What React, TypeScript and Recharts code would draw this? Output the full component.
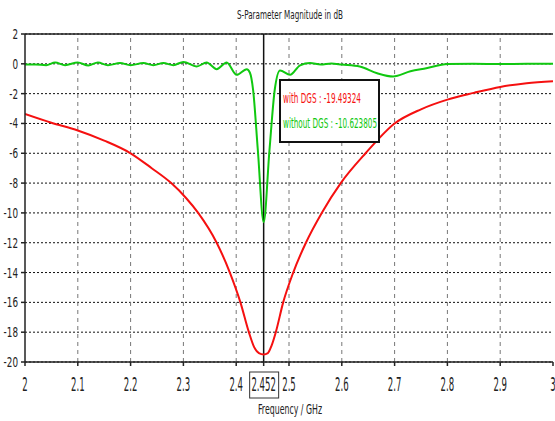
import { LineChart, Line, XAxis, YAxis, CartesianGrid, ReferenceLine } from 'recharts';

// ── Data ─────────────────────────────────────────────────────────────────────
const WITH_DGS_FREQ = [
  2.0, 2.05, 2.1, 2.15, 2.2, 2.24, 2.277, 2.305, 2.328, 2.363, 2.388, 2.408, 2.424, 2.434,
  2.443, 2.452, 2.46, 2.467, 2.475, 2.489, 2.508, 2.532, 2.562, 2.598, 2.645, 2.7, 2.75, 2.8,
  2.85, 2.9, 2.95, 3.0,
];
const WITH_DGS_DB = [
  -3.36, -3.95, -4.47, -5.15, -6.0, -7.0, -8.0, -9.0, -10.0, -12.0, -14.0, -16.0, -18.0,
  -19.0, -19.4, -19.49, -19.4, -18.9, -18.0, -16.0, -14.0, -12.0, -10.0, -8.0, -6.0, -4.0,
  -3.05, -2.4, -1.95, -1.55, -1.3, -1.17,
];

const WITHOUT_DGS_FREQ = [
  2.0, 2.02, 2.04, 2.057, 2.076, 2.1, 2.12, 2.138, 2.157, 2.18, 2.2, 2.224, 2.243, 2.262,
  2.281, 2.3, 2.325, 2.344, 2.363, 2.382, 2.401, 2.42, 2.426, 2.432, 2.441, 2.452, 2.463,
  2.473, 2.483, 2.502, 2.521, 2.54, 2.56, 2.58, 2.6, 2.634, 2.667, 2.697, 2.73, 2.76, 2.8,
  2.85, 2.9, 2.95, 3.0,
];
const WITHOUT_DGS_DB = [
  -0.05, -0.05, -0.09, 0.09, -0.09, 0.09, -0.11, 0.09, -0.09, 0.05, -0.09, 0.05, -0.09, 0.05,
  -0.09, 0.13, -0.18, 0.09, -0.36, 0.09, -0.74, -0.36, -0.6, -1.74, -5.8, -10.623805, -5.8,
  -1.74, -0.45, -0.74, -0.1, 0.05, -0.05, 0.02, -0.05, -0.18, -0.63, -0.85, -0.5, -0.3, -0.02,
  0, -0.02, 0, 0,
];

const FREQ_TICKS = [2, 2.1, 2.2, 2.3, 2.4, 2.5, 2.6, 2.7, 2.8, 2.9, 3];
const DB_TICKS = [-20, -18, -16, -14, -12, -10, -8, -6, -4, -2, 0, 2];
const MARKER_FREQ = 2.452;
const MARKER_WITH = '-19.49324';
const MARKER_WITHOUT = '-10.623805';

const withDgs = WITH_DGS_FREQ.map((f, i) => ({ f, db: WITH_DGS_DB[i] }));
const withoutDgs = WITHOUT_DGS_FREQ.map((f, i) => ({ f, db: WITHOUT_DGS_DB[i] }));

// ── Style ────────────────────────────────────────────────────────────────────
const RED = '#f51010';
const GREEN = '#10c810';
const FONT = "'DejaVu Sans Condensed', 'DejaVu Sans', sans-serif";

function XTick({ x, y, payload }: any) {
  const v = payload.value;
  const isMarker = Math.abs(v - MARKER_FREQ) < 1e-6;
  const label = isMarker ? '2.452' : String(v);
  return (
    <g>
      {isMarker && (
        <rect x={x - 14} y={y + 4} width={29} height={26} fill="#fff" stroke="#333" strokeWidth={1} />
      )}
      <text
        transform={`translate(${x},${y + 23}) scale(0.5,1)`}
        textAnchor="middle"
        fontFamily={FONT}
        fontSize={19}
        fill="#222"
      >
        {label}
      </text>
    </g>
  );
}

function YTick({ x, y, payload }: any) {
  return (
    <text
      transform={`translate(${x - 1},${y + 5}) scale(0.7,1)`}
      textAnchor="end"
      fontFamily={FONT}
      fontSize={14}
      fill="#222"
    >
      {payload.value}
    </text>
  );
}

export default function App() {
  const xTicks = [...FREQ_TICKS, MARKER_FREQ].sort((a, b) => a - b);
  return (
    <div style={{ position: 'absolute', left: 0, top: 0, width: 555, height: 421, background: '#fff' }}>
      <LineChart width={555} height={421} margin={{ top: 34, right: 2, bottom: 0, left: 0 }}>
        <CartesianGrid vertical={false} stroke="#111" strokeDasharray="2 2" />
        {FREQ_TICKS.slice(1, -1).map((f) => (
          <ReferenceLine key={f} x={f} stroke="#777" strokeDasharray="4 4" />
        ))}
        <XAxis
          type="number"
          dataKey="f"
          domain={[2, 3]}
          ticks={xTicks}
          interval={0}
          height={59}
          stroke="#222"
          strokeWidth={1.5}
          tickSize={4}
          tick={<XTick />}
          allowDataOverflow
        />
        <YAxis
          type="number"
          domain={[-20, 2]}
          ticks={DB_TICKS}
          interval={0}
          width={25}
          stroke="#222"
          strokeWidth={1.5}
          tickSize={4}
          tick={<YTick />}
          allowDataOverflow
        />
        <ReferenceLine y={2} stroke="#222" strokeWidth={1.5} />
        <ReferenceLine x={MARKER_FREQ} stroke="#111" strokeWidth={1.5} />
        <Line
          data={withDgs}
          dataKey="db"
          type="monotone"
          stroke={RED}
          strokeWidth={2}
          dot={false}
          isAnimationActive={false}
        />
        <Line
          data={withoutDgs}
          dataKey="db"
          type="monotone"
          stroke={GREEN}
          strokeWidth={2}
          dot={false}
          isAnimationActive={false}
        />
      </LineChart>
      <svg
        width={555}
        height={421}
        style={{ position: 'absolute', left: 0, top: 0, pointerEvents: 'none' }}
      >
        <text x={237} y={19} fontFamily={FONT} fontSize={13} fill="#222" textLength={106} lengthAdjust="spacingAndGlyphs">
          S-Parameter Magnitude in dB
        </text>
        <text x={258} y={414} fontFamily={FONT} fontSize={14} fill="#222" textLength={64} lengthAdjust="spacingAndGlyphs">
          Frequency / GHz
        </text>
        <rect x={280} y={80} width={99} height={62} fill="#fff" stroke="#111" strokeWidth={2} />
        <text x={283} y={103} fontFamily={FONT} fontSize={14} fill={RED} textLength={78} lengthAdjust="spacingAndGlyphs">
          {`with DGS : ${MARKER_WITH}`}
        </text>
        <text x={283} y={128} fontFamily={FONT} fontSize={14} fill={GREEN} textLength={94} lengthAdjust="spacingAndGlyphs">
          {`without DGS : ${MARKER_WITHOUT}`}
        </text>
      </svg>
    </div>
  );
}
